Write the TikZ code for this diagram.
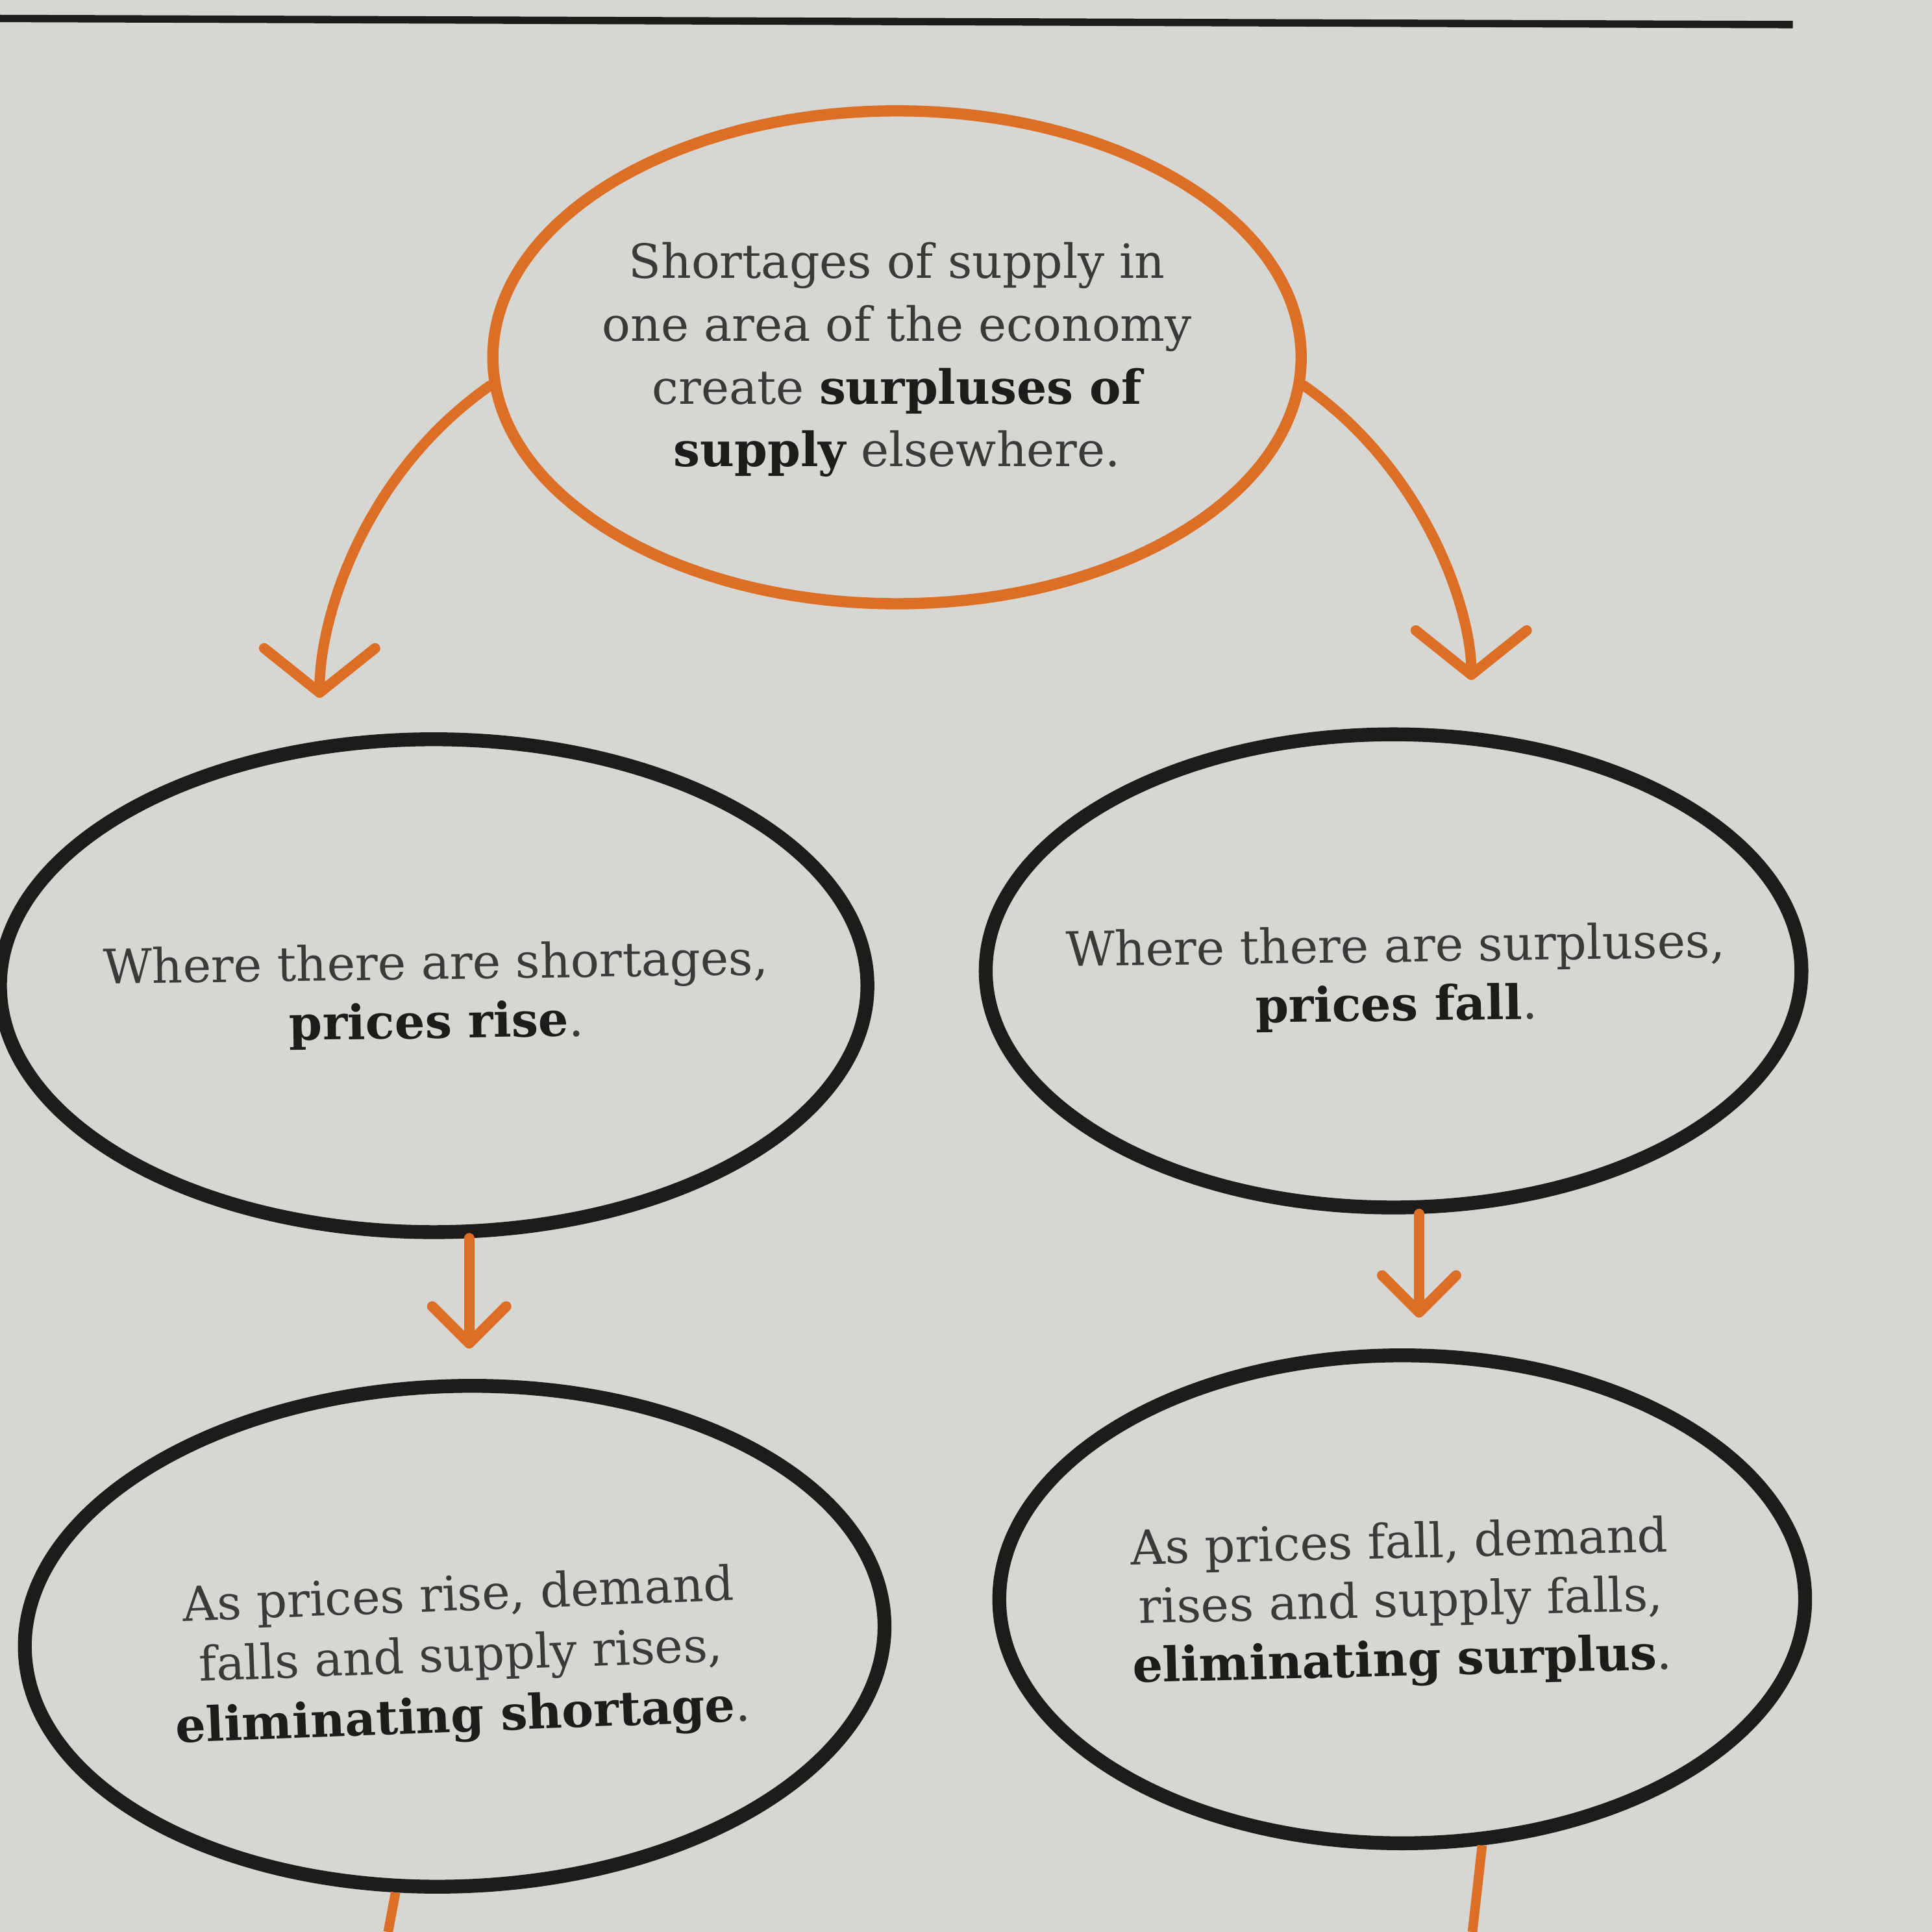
\documentclass[tikz,border=0pt]{standalone}
\usepackage{fontspec}
\setmainfont{DejaVu Serif}
\usetikzlibrary{arrows.meta,shapes.geometric}
\definecolor{paper}{HTML}{D6D7D3}
\definecolor{markorange}{HTML}{DC6E26}
\definecolor{inkgray}{HTML}{3A3A3A}
\definecolor{inkblack}{HTML}{1E1B1B}
\newcommand{\hl}[1]{\textbf{\textcolor{inkblack}{#1}}}

\begin{document}
\begin{tikzpicture}[
    font=\fontsize{11}{13.6}\selectfont,
    oval/.style={ellipse, draw=inkblack, line width=3.2pt, inner sep=0pt},
    ovalo/.style={ellipse, draw=markorange, line width=2.6pt, inner sep=0pt},
    txt/.style={align=center, text=inkgray, inner sep=0pt},
    fl/.style={-{Straight Barb[length=3.6mm, width=9mm, round]}, line width=2.4pt, draw=markorange, line cap=round},
    fls/.style={-{Straight Barb[length=3mm, width=6mm, round]}, line width=2.4pt, draw=markorange, line cap=round}
  ]
  \fill[paper] (0,0) rectangle (15.68,15.68);
  \useasboundingbox (0,0) rectangle (15.68,15.68);
  \draw[line width=1.7pt, inkblack] (0,15.53) -- (14.55,15.48);

  \node[ovalo, minimum width=6.56cm, minimum height=4.0cm] (glut) at (7.28, 12.78) {};
  \node[txt, font=\fontsize{10.9}{14.5}\selectfont] (glut-t) at (7.28, 12.76) {Shortages of supply in\\one area of the economy\\create \hl{surpluses of}\\\hl{supply} elsewhere.};

  \node[oval, minimum width=7.04cm, minimum height=4.0cm] (rise) at (3.52, 7.68) {};
  \node[txt, rotate=0.8] (rise-t) at (3.54, 7.60) {Where there are shortages,\\\hl{prices rise}.};
  \node[oval, minimum width=6.62cm, minimum height=3.84cm] (fall) at (11.31, 7.80) {};
  \node[txt, rotate=0.8] (fall-t) at (11.33, 7.74) {Where there are surpluses,\\\hl{prices fall}.};

  \node[oval, minimum width=6.98cm, minimum height=4.06cm, rotate=2] (endshort) at (3.69, 2.40) {};
  \node[txt, rotate=2.2, font=\fontsize{11}{14}\selectfont] (endshort-t) at (3.74, 2.22) {As prices rise, demand\\falls and supply rises,\\\hl{eliminating shortage}.};
  \node[oval, minimum width=6.54cm, minimum height=3.96cm] (endsurp) at (11.38, 2.70) {};
  \node[txt, rotate=1.4] (endsurp-t) at (11.37, 2.66) {As prices fall, demand\\rises and supply falls,\\\hl{eliminating surplus}.};

  \coordinate (offl) at (3.15, 0);
  \coordinate (offr) at (11.95, 0);

  \draw[fl, shorten >=3.5mm] (glut.184) to[out=215, in=90, in looseness=0.8] (rise.115);
  \draw[fl, shorten >=4.2mm] (glut.-4) to[out=-35, in=90, in looseness=0.8] (fall.72);
  \draw[fls, shorten >=2.5mm] (rise.-82) -- (rise.-82 |- endshort.north);
  \draw[fls, shorten >=2.5mm] (fall.-84) -- (fall.-84 |- endsurp.north);
  \draw[markorange, line width=2.2pt] (endshort.-105) -- (offl);
  \draw[markorange, line width=2.2pt] (endsurp.-72) -- (offr);
\end{tikzpicture}
\end{document}
